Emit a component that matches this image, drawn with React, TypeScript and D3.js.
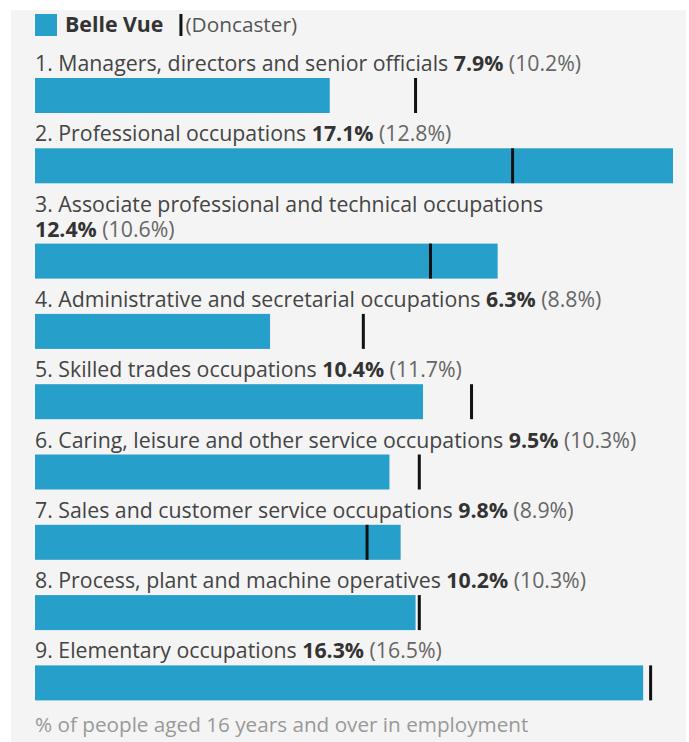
import React, { useEffect, useRef } from "react";
import * as d3 from "d3";

// Occupation groups, Belle Vue vs Doncaster (% of people aged 16+ in employment)
const occupations = [
  "1. Managers, directors and senior officials",
  "2. Professional occupations",
  "3. Associate professional and technical occupations",
  "4. Administrative and secretarial occupations",
  "5. Skilled trades occupations",
  "6. Caring, leisure and other service occupations",
  "7. Sales and customer service occupations",
  "8. Process, plant and machine operatives",
  "9. Elementary occupations",
];
const belleVue = [7.9, 17.1, 12.4, 6.3, 10.4, 9.5, 9.8, 10.2, 16.3];
const doncaster = [10.2, 12.8, 10.6, 8.8, 11.7, 10.3, 8.9, 10.3, 16.5];

const areaName = "Belle Vue";
const compareName = "(Doncaster)";
const caption = "% of people aged 16 years and over in employment";

const App: React.FC = () => {
  const svgRef = useRef<SVGSVGElement | null>(null);

  useEffect(() => {
    if (!svgRef.current) return;
    document.body.style.margin = "0";

    const svg = d3.select(svgRef.current);
    svg.selectAll("*").remove();

    const width = 689;
    const height = 742;
    const left = 35;
    const right = 673;
    const barH = 35;
    const rowGap = 70.3;
    const lineH = 25;
    const fs = 21.3;
    const font = "'Open Sans', sans-serif";
    const blue = "#279fcb";

    // panel background
    svg.append("rect")
      .attr("x", 11).attr("y", 10)
      .attr("width", width - 14).attr("height", height - 10)
      .attr("fill", "#f4f4f4");

    const x = d3.scaleLinear()
      .domain([0, d3.max(belleVue) ?? 1])
      .range([left, right]);

    // legend
    const legend = svg.append("g").attr("font-family", font).attr("font-size", fs);
    legend.append("rect")
      .attr("x", left).attr("y", 14).attr("width", 22).attr("height", 22)
      .attr("fill", blue);
    const lname = legend.append("text")
      .attr("x", 65).attr("y", 32)
      .attr("font-weight", "bold").attr("fill", "#333")
      .text(areaName);
    const nameEnd = 65 + (lname.node() as SVGTextElement).getComputedTextLength();
    legend.append("rect")
      .attr("x", nameEnd + 16).attr("y", 14).attr("width", 3).attr("height", 22)
      .attr("fill", "#111");
    legend.append("text")
      .attr("x", nameEnd + 22).attr("y", 32)
      .attr("font-size", 20.8)
      .attr("fill", "#555")
      .text(compareName);

    // rows (label wraps the values onto a second line when it would overrun the bars)
    let barTop = 78;
    let lastTop = barTop;
    occupations.forEach((name, i) => {
      const g = svg.append("g").attr("font-family", font).attr("font-size", fs);
      const t = g.append("text").attr("x", left).attr("fill", "#444");
      t.append("tspan").text(name);
      const vb = t.append("tspan").attr("font-weight", "bold").attr("fill", "#333")
        .text(" " + belleVue[i].toFixed(1) + "%");
      t.append("tspan").attr("fill", "#666")
        .text(" (" + doncaster[i].toFixed(1) + "%)");

      const full = (t.node() as SVGTextElement).getComputedTextLength();
      let extra = 0;
      if (left + full > right) {
        extra = lineH;
        vb.attr("x", left).attr("dy", lineH).text(belleVue[i].toFixed(1) + "%");
      }
      const top = barTop + extra;
      t.attr("y", top - 7 - extra);

      g.append("rect")
        .attr("x", x(0)).attr("y", top)
        .attr("width", x(belleVue[i]) - x(0)).attr("height", barH)
        .attr("fill", blue);
      g.append("rect")
        .attr("x", x(doncaster[i]) - 1.5).attr("y", top)
        .attr("width", 3).attr("height", barH)
        .attr("fill", "#111");

      lastTop = top;
      barTop = top + rowGap;
    });

    svg.append("text")
      .attr("x", left).attr("y", lastTop + barH + 32)
      .attr("font-family", font).attr("font-size", 20.7)
      .attr("fill", "#999")
      .text(caption);
  }, []);

  return <svg ref={svgRef} width={689} height={742} style={{ display: "block" }}></svg>;
};

export default App;
